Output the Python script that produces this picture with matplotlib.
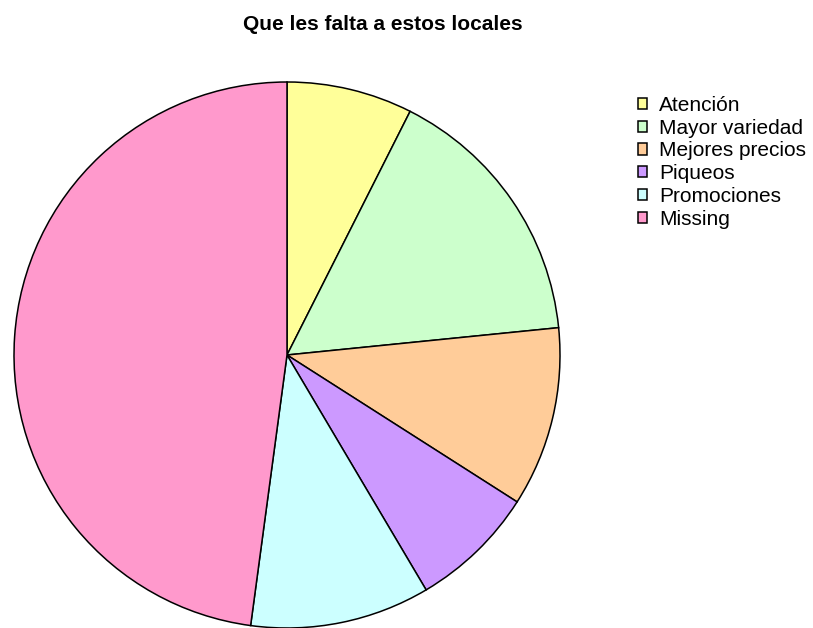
import matplotlib

matplotlib.use("Agg")
import matplotlib.pyplot as plt

plt.rcParams["font.family"] = ["Liberation Sans", "DejaVu Sans"]

# Survey answers: what these shops are missing
categories = ["Atención", "Mayor variedad", "Mejores precios", "Piqueos",
              "Promociones", "Missing"]
counts = [7, 15, 10, 7, 10, 45]
colors = ["#FFFF99", "#CCFFCC", "#FFCC99", "#CC99FF", "#CCFFFF", "#FF99CC"]

W, H = 813, 628
fig = plt.figure(figsize=(W / 100, H / 100), dpi=100)

# pie centred at (287, 355) px with radius 273 px
cx, cy, r = 287, 355, 273
ax = fig.add_axes([(cx - r) / W, (H - cy - r) / H, 2 * r / W, 2 * r / H])
wedges, _ = ax.pie(counts, colors=colors, startangle=90, counterclock=False,
                   radius=1.0,
                   wedgeprops=dict(edgecolor="black", linewidth=1.1))
ax.set_xlim(-1, 1)
ax.set_ylim(-1, 1)
ax.set_aspect("equal")
ax.axis("off")

fig.text(383 / W, 1 - 25 / H, "Que les falta a estos locales", ha="center",
         va="center", fontsize=15, fontweight="bold")

fig.legend(wedges, categories, loc="upper left",
           bbox_to_anchor=(638 / W, 1 - 96 / H), frameon=False, borderpad=0,
           fontsize=15, handlelength=0.45, handleheight=0.45, handletextpad=0.55,
           labelspacing=0.18, borderaxespad=0)

fig.savefig("out.png", dpi=100)
